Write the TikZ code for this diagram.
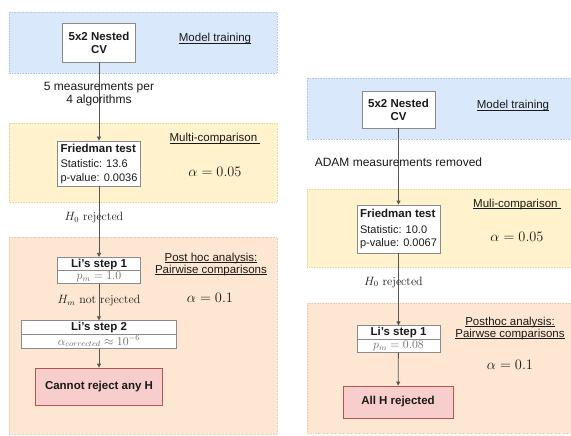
\documentclass[tikz,border=0pt]{standalone}
\usepackage{fontspec}
\setsansfont{Liberation Sans}
\usepackage{xcolor,tikz}
\usetikzlibrary{positioning,calc,arrows.meta,shapes.multipart}
\definecolor{flowBlueFill}{HTML}{DAE8FC}
\definecolor{flowBlueLine}{HTML}{AFC6E6}
\definecolor{flowYellowFill}{HTML}{FFF2CC}
\definecolor{flowYellowLine}{HTML}{E8D69C}
\definecolor{flowOrangeFill}{HTML}{FDE6D2}
\definecolor{flowOrangeLine}{HTML}{EDC9A8}
\definecolor{flowPinkFill}{HTML}{F8CECC}
\definecolor{flowPinkLine}{HTML}{B85450}
\definecolor{flowGreyLine}{HTML}{555555}
\definecolor{flowBoxLine}{HTML}{8A8A8A}
\definecolor{flowText}{HTML}{1A1A1A}
\newcommand\flowul[1]{\underline{\smash{#1}}}

\tikzset{
  band/.style={densely dotted, line width=0.6pt},
  box/.style={draw=flowBoxLine, fill=white, line width=0.8pt, align=center,
    inner sep=0pt, text=flowText,
    font=\sffamily\bfseries\fontsize{11.5}{13}\selectfont},
  listbox/.style={box, align=left, inner xsep=3pt,
    font=\sffamily\fontsize{11}{13.5}\selectfont},
  listep/.style={rectangle split, rectangle split parts=2, draw=flowBoxLine,
    fill=white, line width=0.8pt, inner xsep=2pt, inner ysep=1pt,
    text=flowText, font=\sffamily\fontsize{11.5}{13}\selectfont},
  endbox/.style={box, draw=flowPinkLine, fill=flowPinkFill},
  tag/.style={text=flowText, align=center,
    font=\sffamily\fontsize{11.5}{12}\selectfont},
  mathlbl/.style={text=flowText, font=\fontsize{14}{16}\selectfont},
  edgelbl/.style={text=flowText, font=\fontsize{12}{14}\selectfont},
  sublbl/.style={text=flowText, align=center,
    font=\sffamily\fontsize{12}{13}\selectfont},
  conn/.style={draw=flowGreyLine, line width=0.8pt,
    -{Triangle[length=4pt,width=4pt]}}
}

\begin{document}
\begin{tikzpicture}[x=1pt,y=-1pt]

% --- PARAMETERS ---
\def\lx{99}        % left column x
\def\rx{398.5}     % right column x
\def\lbandL{9}     % left bands
\def\lbandR{277}
\def\rbandL{307}   % right bands
\def\rbandR{571}
\def\pval{\color{black!60}\fontsize{11.5}{12}\selectfont}

\useasboundingbox (0,0) rectangle (571,436);

% --- BANDS ---
\draw[band, draw=flowBlueLine, fill=flowBlueFill]
  (\lbandL,12) rectangle (\lbandR,73);
\draw[band, draw=flowYellowLine, fill=flowYellowFill]
  (\lbandL,123) rectangle (\lbandR,202);
\draw[band, draw=flowOrangeLine, fill=flowOrangeFill]
  (\lbandL,237) rectangle (\lbandR,434);
\draw[band, draw=flowBlueLine, fill=flowBlueFill]
  (\rbandL,78) rectangle (\rbandR,139);
\draw[band, draw=flowYellowLine, fill=flowYellowFill]
  (\rbandL,189) rectangle (\rbandR,267);
\draw[band, draw=flowOrangeLine, fill=flowOrangeFill]
  (\rbandL,303) rectangle (\rbandR,433);

% --- LEFT: ALL FIVE ALGORITHMS ---
\node[box, minimum width=73pt, minimum height=39pt] (cvL) at (\lx,42.5)
  {5x2 Nested\\CV};
\node[tag] (trainL) at (215,43) {\flowul{Model training}};

\node[listbox, minimum width=83pt, minimum height=45pt] (friedL) at (\lx,163.5)
  {\textbf{\fontsize{11.5}{13}\selectfont Friedman test}\\[2pt]
   Statistic: 13.6\\p-value: 0.0036};
\node[tag] (multiL) at (215,143) {\flowul{Multi-comparison\ }};
\node[mathlbl] (alphaL1) at (215,172) {$\alpha = 0.05$};

\node[listep, minimum width=83pt] (li1L) at (\lx,270.5)
  {\textbf{Li's step 1}\nodepart{second}{\pval$p_m = 1.0$}};
\node[tag] (postL) at (211,268)
  {\flowul{Post hoc analysis:}\\\flowul{Pairwise comparisons}};
\node[mathlbl] (alphaL2) at (210,298) {$\alpha = 0.1$};

\node[listep, minimum width=155pt] (li2L) at (\lx,334.5)
  {\textbf{Li's step 2}\nodepart{second}{\pval$\alpha_{corrected} \approx 10^{-6}$}};

\node[endbox, minimum width=127pt, minimum height=37pt] (noneL) at (\lx,386.5)
  {Cannot reject any H};

\draw[conn] (cvL) -- node[sublbl, pos=0.41]
  {5 measurements per\\4 algorithms} (friedL);
\draw[conn] (friedL) -- node[edgelbl, pos=0.44, xshift=-5pt] {$H_0$ rejected} (li1L);
\draw[conn] (li1L) -- node[edgelbl, pos=0.45] {$H_m$ not rejected} (li2L);
\draw[conn] (li2L) -- (noneL);

% --- RIGHT: ADAM REMOVED ---
\node[box, minimum width=73pt, minimum height=37pt] (cvR) at (\rx,109.5)
  {5x2 Nested\\CV};
\node[tag] (trainR) at (513,110) {\flowul{Model training}};

\node[listbox, minimum width=83pt, minimum height=48pt] (friedR) at (\rx,229)
  {\textbf{\fontsize{11.5}{13}\selectfont Friedman test}\\[2pt]
   Statistic: 10.0\\p-value: 0.0067};
\node[tag] (multiR) at (517,208) {\flowul{Muli-comparison\ }};
\node[mathlbl] (alphaR1) at (517,237) {$\alpha = 0.05$};

\node[listep, minimum width=83pt] (li1R) at (\rx,339)
  {\textbf{Li's step 1}\nodepart{second}{\pval$p_m = 0.08$}};
\node[tag] (postR) at (510,332)
  {\flowul{Posthoc analysis:}\\\flowul{Pairwse comparisons}};
\node[mathlbl] (alphaR2) at (510,365) {$\alpha = 0.1$};

\node[endbox, minimum width=110pt, minimum height=32pt] (allR) at (398,402)
  {All H rejected};

\draw[conn] (cvR) -- node[sublbl, pos=0.44]
  {ADAM measurements removed} (friedR);
\draw[conn] (friedR) -- node[edgelbl, pos=0.4, xshift=-5pt] {$H_0$ rejected} (li1R);
\draw[conn] (li1R) -- (allR);

\end{tikzpicture}
\end{document}
